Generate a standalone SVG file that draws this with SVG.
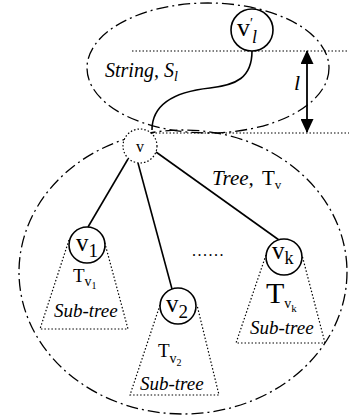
<svg xmlns="http://www.w3.org/2000/svg" width="349" height="417" viewBox="0 0 349 417">
<style>
.dd{fill:none;stroke:#000;stroke-width:1.3;stroke-dasharray:12 4 2 4}
.dot{fill:none;stroke:#000;stroke-width:1.2;stroke-dasharray:1.5 2}
.ln{fill:none;stroke:#000;stroke-width:1.6}
.nd{fill:#fff;stroke:#000;stroke-width:1.6}
text{font-family:"Liberation Serif","DejaVu Serif",serif;fill:#000}
.it{font-style:italic}
</style>
<defs>
<marker id="ah" viewBox="0 0 14 13" refX="13" refY="6.5" markerWidth="14" markerHeight="13" markerUnits="userSpaceOnUse" orient="auto-start-reverse">
<path d="M0,0 L14,6.5 L0,13 Z" fill="#000"/>
</marker>
</defs>
<g id="regions">
<ellipse class="dd" cx="208" cy="68" rx="121" ry="65"/>
<ellipse class="dd" cx="183" cy="272" rx="164" ry="142"/>
<line class="dot" x1="132" y1="51" x2="349" y2="51"/>
<line class="dot" x1="152" y1="133" x2="349" y2="133"/>
<text class="it" x="105" y="77" font-size="20">String, S<tspan font-size="14" dy="4">l</tspan></text>
<text class="it" x="212" y="185" font-size="21">Tree,</text>
<text x="262" y="185" font-size="21">T<tspan font-size="13" dy="4">v</tspan></text>
<text x="192" y="256" font-size="16" letter-spacing="1.5">......</text>
</g>
<g id="measure">
<line class="ln" x1="307" y1="51" x2="307" y2="132" marker-start="url(#ah)" marker-end="url(#ah)" style="stroke-width:1.8"/>
<text class="it" x="294" y="90" font-size="22">l</text>
</g>
<g id="subtrees">
<polyline class="dot" points="69,240 40,329 128,329 104,240"/>
<polyline class="dot" points="160,305 130,395 219,395 197,305"/>
<polyline class="dot" points="266,255 236,343 325,343 302,255"/>
<text x="73" y="282" font-size="19">T<tspan font-size="14" dy="4">v</tspan><tspan font-size="10" dy="3">1</tspan></text>
<text class="it" x="54" y="317" font-size="19">Sub-tree</text>
<text x="158" y="357" font-size="19">T<tspan font-size="14" dy="6">v</tspan><tspan font-size="10" dy="3">2</tspan></text>
<text class="it" x="140" y="390" font-size="19">Sub-tree</text>
<text x="266" y="303" font-size="30">T<tspan font-size="14" dy="5">v</tspan><tspan font-size="11" dy="4">k</tspan></text>
<text class="it" x="250" y="334" font-size="19">Sub-tree</text>
</g>
<g id="connectors">
<path class="ln" d="M252,51 C252,78 236,85 210,88 C172,92 152,106 152,130"/>
<line class="ln" x1="128" y1="159" x2="88" y2="227"/>
<line class="ln" x1="138" y1="163" x2="172" y2="289"/>
<line class="ln" x1="156" y1="152" x2="279" y2="240"/>
</g>
<g id="node-vl">
<circle class="nd" cx="252" cy="30" r="21"/>
<text x="237" y="36" font-size="26">v<tspan font-size="14" dy="-8">′</tspan><tspan class="it" font-size="18" dx="-1" dy="15">l</tspan></text>
</g>
<g id="node-v">
<circle class="dot" cx="140" cy="146" r="17" style="fill:#fff"/>
<text x="140" y="152" font-size="16" text-anchor="middle">v</text>
</g>
<g id="node-v1">
<circle class="nd" cx="87" cy="245" r="18"/>
<text x="76" y="251" font-size="25">v<tspan font-size="19" dy="6">1</tspan></text>
</g>
<g id="node-v2">
<circle class="nd" cx="178" cy="306" r="18"/>
<text x="166" y="312" font-size="25">v<tspan font-size="19" dy="6">2</tspan></text>
</g>
<g id="node-vk">
<circle class="nd" cx="284" cy="257" r="18"/>
<text x="272" y="259" font-size="25">v<tspan font-size="18" dy="5">k</tspan></text>
</g>
</svg>
